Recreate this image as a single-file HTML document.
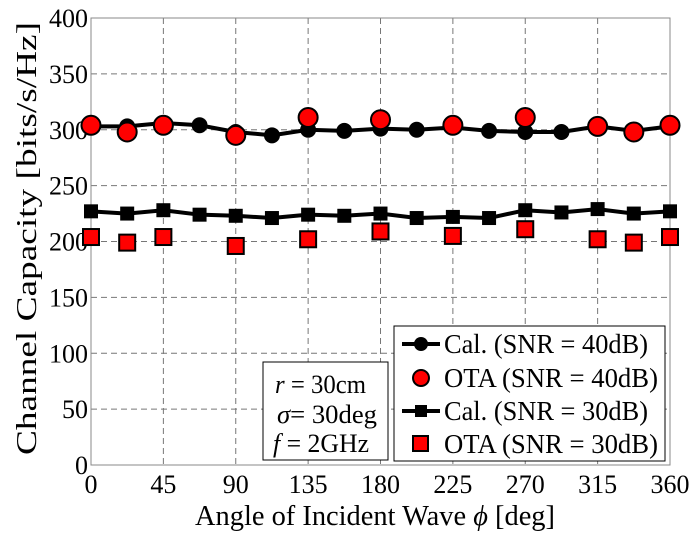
<!DOCTYPE html>
<html><head><meta charset="utf-8"><style>
body{margin:0;background:#fff}
svg{display:block;font-family:"Liberation Serif",serif}
</style></head><body>
<svg id="chart" width="692" height="536" viewBox="0 0 692 536">
<g id="grid"></g>
<g id="axes"></g>
<g id="series"></g>
<text x="195" y="525" font-size="29" textLength="360" lengthAdjust="spacingAndGlyphs">Angle of Incident Wave  <tspan font-style="italic">ϕ</tspan> [deg]</text>
<text transform="translate(36,455) rotate(-90)" font-size="29" textLength="433" lengthAdjust="spacingAndGlyphs">Channel Capacity  [bits/s/Hz]</text>
<g>
<rect x="263" y="362" width="125" height="98" fill="#fff" stroke="#000" stroke-width="1"/>
<text x="275" y="393" font-size="26" textLength="91" lengthAdjust="spacingAndGlyphs"><tspan font-style="italic">r</tspan> = 30cm</text>
<text x="277" y="423" font-size="26" textLength="100" lengthAdjust="spacingAndGlyphs"><tspan font-style="italic">σ</tspan>= 30deg</text>
<text x="273" y="452" font-size="26" textLength="96" lengthAdjust="spacingAndGlyphs"><tspan font-style="italic">f</tspan> = 2GHz</text>
</g>
<g id="legend">
<rect x="394" y="326" width="271" height="135" fill="#fff" stroke="#000" stroke-width="1"/>
<g><line x1="402" y1="344" x2="440" y2="344" stroke="#000" stroke-width="4"/><circle cx="421" cy="344" r="7" fill="#000"/><text x="444" y="353" font-size="27" textLength="204" lengthAdjust="spacingAndGlyphs">Cal. (SNR = 40dB)</text></g>
<g><circle cx="421" cy="378" r="8" fill="#f00" stroke="#000" stroke-width="2"/><text x="444" y="387" font-size="27" textLength="214" lengthAdjust="spacingAndGlyphs">OTA (SNR = 40dB)</text></g>
<g><line x1="402" y1="411" x2="440" y2="411" stroke="#000" stroke-width="4"/><rect x="415" y="405" width="12" height="12" fill="#000"/><text x="444" y="420" font-size="27" textLength="204" lengthAdjust="spacingAndGlyphs">Cal. (SNR = 30dB)</text></g>
<g><rect x="413" y="436" width="15" height="15" fill="#f00" stroke="#000" stroke-width="2"/><text x="444" y="453" font-size="27" textLength="214" lengthAdjust="spacingAndGlyphs">OTA (SNR = 30dB)</text></g>
</g>
</svg>
<script>
const angles = [0,22.5,45,67.5,90,112.5,135,157.5,180,202.5,225,247.5,270,292.5,315,337.5,360];
const cal40 = [303,303,306,304,298,295,300,299,301,300,302,299,298,298,303,299,303];
const cal30 = [227,225,228,224,223,221,224,223,225,221,222,221,228,226,229,225,227];
const otaAngles = [0,22.5,45,90,135,180,225,270,315,337.5,360];
const ota40 = [304,298,304,295,311,309,304,311,303,298,304];
const ota30 = [204,199,204,196,202,209,205,211,202,199,204];
const xTicks = [0,45,90,135,180,225,270,315,360];
const yTicks = [0,50,100,150,200,250,300,350,400];
const NS="http://www.w3.org/2000/svg";
const X0=91,X1=670,Y0=465,Y1=18;
const xs=v=>X0+(v/360)*(X1-X0);
const ys=v=>Y0-(v/400)*(Y0-Y1);
function mk(t,a,p){const e=document.createElementNS(NS,t);for(const k in a)e.setAttribute(k,a[k]);p.appendChild(e);return e;}
const grid=document.getElementById('grid'),axes=document.getElementById('axes'),ser=document.getElementById('series');
xTicks.forEach(t=>{
 if(t>0&&t<360){const l=mk('line',{x1:xs(t),x2:xs(t),y1:Y1,y2:Y0,stroke:'#777','stroke-dasharray':'6,4','stroke-width':1},grid);
 
 }
 const tx=mk('text',{x:xs(t),y:Y0+28,'font-size':26,'text-anchor':'middle'},axes);tx.textContent=t;
 
 
});
yTicks.forEach(t=>{
 if(t>0&&t<400){const l=mk('line',{x1:X0,x2:X1,y1:ys(t),y2:ys(t),stroke:'#777','stroke-dasharray':'6,4','stroke-width':1},grid);
 
 }
 const tx=mk('text',{x:X0-3,y:ys(t)+9,'font-size':26,'text-anchor':'end'},axes);tx.textContent=t;
 
 
});
const fr=mk('rect',{x:X0,y:Y1,width:X1-X0,height:Y0-Y1,fill:'none',stroke:'#888','stroke-width':1},axes);


function line(ax,vals,name){const p=mk('polyline',{points:ax.map((a,i)=>xs(a)+','+ys(vals[i])).join(' '),fill:'none',stroke:'#000','stroke-width':4},ser);
 
 }
line(angles,cal40,'cal-40-line');
line(angles,cal30,'cal-30-line');
angles.forEach((a,i)=>{const c=mk('circle',{cx:xs(a),cy:ys(cal40[i]),r:8,fill:'#000'},ser);
 
 
 const r=mk('rect',{x:xs(a)-7,y:ys(cal30[i])-7,width:14,height:14,fill:'#000'},ser);
 
 });
otaAngles.forEach((a,i)=>{const c=mk('circle',{cx:xs(a),cy:ys(ota40[i]),r:9.5,fill:'#f00',stroke:'#000','stroke-width':2},ser);
 
 
 const r=mk('rect',{x:xs(a)-8,y:ys(ota30[i])-8,width:16,height:16,fill:'#f00',stroke:'#000','stroke-width':2},ser);
 
 });
</script>
</body></html>
